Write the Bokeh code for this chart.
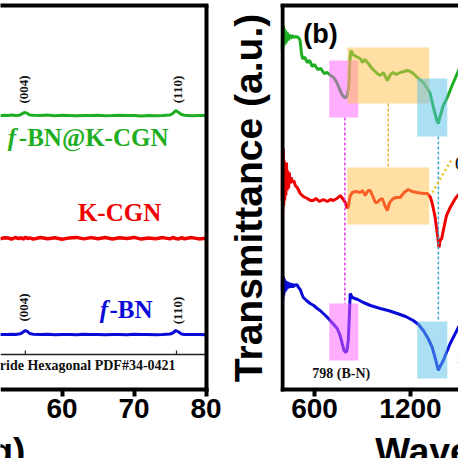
import math
from bokeh.plotting import figure
from bokeh.models import LinearAxis, FixedTicker, Label
from bokeh.layouts import row
from bokeh.core.properties import value
from bokeh.embed import file_html
from bokeh.resources import INLINE

# ---------------- (a) XRD data ----------------
xrd_x = [51.4, 52, 52.5, 53, 53.5, 54, 54.3, 54.6, 54.9, 55.2, 55.5, 56, 57, 58, 59, 60, 61, 62, 63, 64, 65, 66,
         67, 68, 69, 70, 71, 72, 73, 74, 75, 75.4, 75.8, 76.2, 76.6, 77, 78, 79, 80]
xrd_green = [273.8, 274.2, 274, 274.5, 274, 274.3, 275, 276.5, 277, 276, 274.6, 274.2, 274, 274.4, 273.8, 274.2,
             274, 273.7, 274.1, 273.9, 274.2, 273.8, 274, 274.3, 273.9, 274, 273.6, 274.1, 273.8, 274, 274.6,
             276, 279, 277, 275, 274.2, 273.8, 274, 273.9]
xrd_red = [150.7, 151.8, 151.5, 150.3, 152.0, 150.8, 151.9, 150.5, 152.2, 150.9, 151.7, 150.4, 152.0, 150.7,
           151.8, 150.3, 151.6, 152.1, 150.6, 151.9, 150.8, 152.0, 150.5, 151.7, 150.9, 152.1, 150.4, 151.6,
           150.8, 151.9, 150.6, 152.0, 151.0, 150.5, 151.8, 150.7, 151.9, 150.6, 151.3]
xrd_blue = [55.1, 54.9, 55, 55.3, 55, 55.4, 56, 57.5, 59, 58, 56, 55.3, 55, 55.2, 54.8, 55.1, 55, 54.7, 55.2,
            54.9, 55, 54.8, 55.1, 55, 54.8, 55.2, 54.9, 55, 54.8, 55.1, 55.5, 56.5, 59, 57.5, 55.6, 55.1, 54.9,
            55, 54.8]
xrd_ticks = [50, 60, 70, 80]
ref_peaks = [54.9, 75.9]
ref_text = "Boron Nitride   Hexagonal    PDF#34-0421"
hkl_labels = ["(004)", "(110)"]

# ---------------- (b) FTIR data ----------------
g_x = [397, 400, 403, 406, 409, 412, 416, 420, 425, 430, 436, 442, 450, 460, 470, 480, 500, 510, 518, 525,
       540, 555, 570, 585, 600, 620, 640, 660, 680, 700, 720, 740, 760, 775, 790, 798, 806, 815, 822, 828,
       840, 860, 886, 900, 915, 936, 960, 992, 1011, 1030, 1055, 1075, 1092, 1110, 1136, 1160, 1180, 1200,
       1217, 1250, 1280, 1305, 1323, 1345, 1365, 1374, 1385, 1405, 1430, 1460, 1492, 1520, 1555]
g_y = [339, 367, 341, 364, 344, 361, 345, 359, 347, 357, 349, 355, 351, 354, 352, 353, 352, 349, 337, 331,
       332, 327, 329, 323, 325, 320, 321, 316, 317, 314, 312, 307, 299, 294, 292, 292, 295, 304, 331, 339,
       335, 333, 331, 327, 330, 326, 321, 316, 314, 317, 309, 315, 317, 315, 317, 318, 319, 318,
       316, 311, 307, 301, 296, 281, 269, 266, 273, 284, 292, 304, 316, 326, 336]
r_x = [396, 399, 402, 405, 408, 411, 414, 417, 421, 425, 429, 433, 438, 443, 448, 455, 462, 470, 480, 492,
       511, 530, 555, 575, 592, 610, 630, 655, 680, 700, 717, 740, 761, 780, 792, 803, 811, 822, 836, 860,
       886, 900, 917, 935, 948, 965, 980, 992, 1010, 1023, 1040, 1055, 1070, 1092, 1110, 1136, 1160, 1186,
       1210, 1242, 1280, 1305, 1325, 1336, 1352, 1367, 1378, 1385, 1395, 1405, 1425, 1448, 1480, 1511, 1540]
r_y = [189, 239, 177, 241, 184, 229, 189, 224, 194, 227, 199, 219, 201, 217, 206, 212, 207, 209, 204, 202,
       196, 193, 191, 189, 189, 191, 188, 190, 188, 190, 189, 191, 194, 190, 187, 182, 182, 193, 197, 198,
       197, 199, 194, 199, 199, 193, 187, 187, 190, 191, 184, 179, 187, 191, 192, 192, 197, 200,
       198, 197, 196, 196, 192, 186, 174, 157, 142, 149, 151, 159, 174, 182, 191, 197, 202]
b_x = [396, 399, 402, 405, 408, 411, 414, 418, 422, 428, 434, 440, 448, 456, 465, 472, 480, 490, 500, 511,
       520, 530, 550, 573, 595, 617, 635, 655, 675, 698, 720, 742, 760, 773, 785, 795, 803, 811, 818, 823,
       836, 870, 905, 950, 1011, 1060, 1117, 1170, 1217, 1250, 1280, 1310, 1336, 1355, 1374, 1385, 1405,
       1425, 1448, 1480, 1511, 1540]
b_y = [99, 116, 89, 113, 94, 111, 97, 109, 99, 108, 101, 107, 102, 106, 102, 105, 104, 105, 102, 100,
       96, 92, 89, 86, 84, 81, 79, 76, 73, 69, 65, 61, 54, 46, 39, 37, 39, 49, 74, 96,
       92, 90, 87, 84, 81, 79, 76, 73, 69, 65, 59, 51, 42, 31, 19, 23, 29,
       37, 46, 56, 66, 76]
ftir_ticks = [600, 1200, 1800, 2400, 3000, 3600]
# highlight boxes: left, right, bottom, top
box_l = [692, 692, 805, 805, 1242, 1242]
box_r = [873, 873, 1317, 1317, 1430, 1430]
box_b = [272, 29, 286, 165, 253, 11]
box_t = [329, 86, 342, 222, 311, 68]
box_c = ["#ff5cff", "#ff5cff", "#ffc04a", "#ffc04a", "#58bfea", "#58bfea"]
# dashed connectors
dash_x = [790, 1061, 1374]
dash_y0 = [272, 286, 253]
dash_y1 = [86, 222, 68]
dash_c = ["#e040e0", "#f0b030", "#3aa8d8"]

BLACK = "#000000"
GREEN = "#1fae23"
RED = "#f00000"
BLUE = "#0a0ad8"
SANS = "Liberation Sans"
SERIF = "Liberation Serif"

Y_LO, Y_HI = -69, 384          # y range of both panels (plot box spans y = 0 .. 384)
X1_LO, X1_HI = 51.45, 90.35    # panel (a) range, axes drawn up to 80
X2_LO, X2_HI = 387.5, 1500     # panel (b) range, axes drawn from 400


def border_axis(p, where, bounds, loc=None):
    ax = LinearAxis(ticker=FixedTicker(ticks=[]), axis_line_width=4, axis_line_color=BLACK,
                    major_tick_out=0, major_tick_in=0, minor_tick_out=0, minor_tick_in=0,
                    major_label_text_font_size="0px", bounds=bounds, fixed_location=loc)
    p.add_layout(ax, where)


def bottom_axis(p, ticks, bounds):
    ax = LinearAxis(ticker=FixedTicker(ticks=ticks), fixed_location=0, bounds=bounds,
                    axis_line_width=4, axis_line_color=BLACK,
                    major_tick_line_width=4, major_tick_out=7, major_tick_in=0,
                    minor_tick_line_color=None,
                    major_label_text_font=SANS, major_label_text_font_style="bold",
                    major_label_text_font_size="28px", major_label_text_color=BLACK,
                    major_label_standoff=2)
    p.add_layout(ax, "below")


# ---------------- left figure (a) ----------------
p1 = figure(width=280, height=458, x_range=(X1_LO, X1_HI), y_range=(Y_LO, Y_HI),
            output_backend="svg", toolbar_location=None, x_axis_location=None, y_axis_location=None,
            min_border_left=0, min_border_right=0, min_border_top=5, min_border_bottom=0,
            outline_line_color=None, background_fill_color="white", border_fill_color="white")
p1.grid.visible = False
bottom_axis(p1, xrd_ticks, (X1_LO, 80.28))
border_axis(p1, "above", (X1_LO, 80.28))
border_axis(p1, "right", (-2, 386), loc=80)

p1.line(xrd_x, xrd_green, line_color=GREEN, line_width=3)
p1.line(xrd_x, xrd_red, line_color=RED, line_width=3.5)
p1.line(xrd_x, xrd_blue, line_color=BLUE, line_width=3)

# reference card
p1.segment(x0=[X1_LO], y0=[35], x1=[80], y1=[35], line_color="#222222", line_width=1.5)
p1.segment(x0=ref_peaks, y0=[35, 35], x1=ref_peaks, y1=[39, 39], line_color="#222222", line_width=1.2)
p1.text(x=[78.2], y=[24], text=[ref_text], text_font=value(SERIF), text_font_style="bold",
        text_font_size="14px", text_align="right", text_baseline="middle", text_color="#111111")

# hkl labels (rotated)
for hx, hy, ht in zip([54.65, 76.0, 54.65, 76.0], [300, 300, 82, 79], hkl_labels + hkl_labels):
    p1.add_layout(Label(x=hx, y=hy, text=ht, angle=90, angle_units="deg", text_font=SERIF,
                        text_font_style="bold", text_font_size="13px", text_align="center",
                        text_baseline="middle", text_color="#111111"))

# sample names
p1.text(x=[52.45], y=[252], text=["f"], text_font=value(SERIF), text_font_style="bold italic",
        text_font_size="25px", text_align="left", text_baseline="middle", text_color=GREEN)
p1.text(x=[54.0], y=[252], text=["-BN@K-CGN"], text_font=value(SERIF), text_font_style="bold",
        text_font_size="25px", text_align="left", text_baseline="middle", text_color=GREEN)
p1.text(x=[62.2], y=[177], text=["K-CGN"], text_font=value(SERIF), text_font_style="bold",
        text_font_size="25px", text_align="left", text_baseline="middle", text_color=RED)
p1.text(x=[65.25], y=[80], text=["f"], text_font=value(SERIF), text_font_style="bold italic",
        text_font_size="25px", text_align="left", text_baseline="middle", text_color=BLUE)
p1.text(x=[66.6], y=[80], text=["-BN"], text_font=value(SERIF), text_font_style="bold",
        text_font_size="25px", text_align="left", text_baseline="middle", text_color=BLUE)

# axis titles
p1.add_layout(Label(x=54.9, y=-62, text="2θ (deg)", text_font=SANS, text_font_style="bold",
                    text_font_size="37px", text_align="right", text_baseline="alphabetic",
                    text_color=BLACK))
p1.add_layout(Label(x=85.95, y=191.5, text="Transmittance (a.u.)", angle=90, angle_units="deg",
                    text_font=SANS, text_font_style="bold", text_font_size="39px",
                    text_align="center", text_baseline="alphabetic", text_color=BLACK))

# ---------------- right figure (b) ----------------
p2 = figure(width=178, height=458, x_range=(X2_LO, X2_HI), y_range=(Y_LO, Y_HI),
            output_backend="svg", toolbar_location=None, x_axis_location=None, y_axis_location=None,
            min_border_left=0, min_border_right=0, min_border_top=5, min_border_bottom=0,
            outline_line_color=None, background_fill_color="white", border_fill_color="white")
p2.grid.visible = False
bottom_axis(p2, ftir_ticks, (X2_LO, X2_HI))
border_axis(p2, "above", (X2_LO, X2_HI))
border_axis(p2, "left", (-2, 386), loc=400)

p2.line(g_x, g_y, line_color=GREEN, line_width=3)
p2.line(r_x, r_y, line_color=RED, line_width=3)
p2.line(b_x, b_y, line_color=BLUE, line_width=3)

p2.segment(x0=dash_x, y0=dash_y0, x1=dash_x, y1=dash_y1, line_color=dash_c, line_width=1.5,
           line_dash="3 2")
p2.segment(x0=[1336], y0=[197], x1=[1461], y1=[231], line_color="#e8c020", line_width=2.5,
           line_dash="2 3")
p2.quad(left=box_l, right=box_r, bottom=box_b, top=box_t, fill_color=box_c, fill_alpha=0.5,
        line_color=None)

p2.text(x=[530], y=[356], text=["(b)"], text_font=value(SANS), text_font_style="bold",
        text_font_size="27px", text_align="left", text_baseline="middle", text_color=BLACK)
p2.text(x=[767, 1488, 1478], y=[16, 31, 227], text=["798 (B-N)", "1376 (B-N)", "(Surface)"],
        text_font=value(SERIF), text_font_style="bold", text_font_size="14px",
        text_align=["center", "left", "left"], text_baseline="middle", text_color="#111111")

p2.add_layout(Label(x=980, y=-62, text="Wavenumber (cm⁻¹)", text_font=SANS, text_font_style="bold",
                    text_font_size="37px", text_align="left", text_baseline="alphabetic",
                    text_color=BLACK))

layout = row(p1, p2)
open("out.html", "w").write(file_html(layout, INLINE))
